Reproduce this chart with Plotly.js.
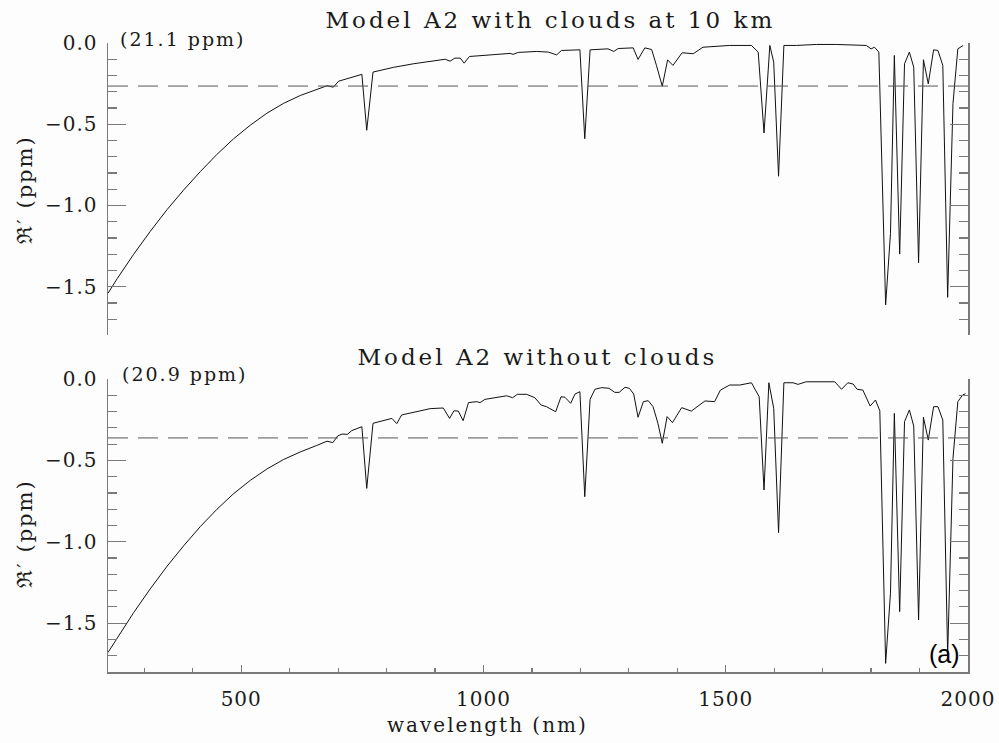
<!DOCTYPE html>
<html>
<head>
<meta charset="utf-8">
<script src="https://cdn.plot.ly/plotly-3.0.1.min.js"></script>
<style>html,body{margin:0;padding:0;background:#fdfdfd;}</style>
</head>
<body>
<div id="chart" style="width:999px;height:743px;"></div>
<script>
// ---- Data ----
const waveTop = [225,244,278,312,347,381,416,450,484,519,553,587,622,656,677,690,701,749,759,772,814,855,890,921,931,941,952,960,971,1007,1055,1061,1072,1110,1134,1151,1161,1199,1209,1220,1257,1269,1278,1309,1319,1333,1347,1357,1369,1380,1391,1410,1433,1453,1481,1508,1553,1567,1579,1591,1599,1609,1620,1646,1687,1728,1790,1800,1807,1816,1830,1840,1848,1859,1869,1879,1888,1898,1908,1918,1929,1938,1948,1958,1969,1979,1990];
const valTop = [-1.54,-1.45,-1.30,-1.16,-1.025,-0.905,-0.79,-0.685,-0.59,-0.505,-0.432,-0.372,-0.323,-0.285,-0.263,-0.272,-0.235,-0.193,-0.537,-0.179,-0.150,-0.128,-0.112,-0.100,-0.112,-0.093,-0.093,-0.124,-0.083,-0.075,-0.064,-0.070,-0.058,-0.052,-0.056,-0.073,-0.046,-0.042,-0.589,-0.042,-0.036,-0.052,-0.034,-0.030,-0.101,-0.030,-0.040,-0.138,-0.266,-0.104,-0.138,-0.060,-0.066,-0.026,-0.022,-0.015,-0.015,-0.056,-0.554,-0.015,-0.118,-0.820,-0.015,-0.015,-0.009,-0.009,-0.015,-0.036,-0.026,-0.056,-1.612,-1.172,-0.077,-1.299,-0.128,-0.056,-0.149,-1.352,-0.103,-0.251,-0.042,-0.046,-0.138,-1.565,-0.373,-0.036,-0.015];

const waveBot = [225,244,278,312,347,381,416,450,484,519,553,587,622,656,677,689,699,708,719,728,749,759,772,811,821,831,855,890,917,930,939,948,958,969,986,993,1003,1048,1060,1070,1089,1106,1119,1130,1149,1160,1168,1180,1189,1199,1209,1220,1230,1244,1259,1271,1280,1292,1301,1310,1319,1330,1340,1350,1360,1369,1379,1390,1409,1429,1457,1477,1489,1508,1529,1553,1569,1579,1589,1599,1609,1620,1639,1649,1666,1725,1739,1752,1763,1771,1783,1798,1809,1818,1830,1840,1848,1859,1869,1879,1888,1898,1908,1918,1929,1938,1948,1958,1969,1979,1989,1995];
const valBot = [-1.68,-1.59,-1.435,-1.29,-1.15,-1.025,-0.905,-0.80,-0.705,-0.622,-0.553,-0.495,-0.448,-0.408,-0.382,-0.391,-0.350,-0.338,-0.340,-0.317,-0.293,-0.672,-0.272,-0.242,-0.274,-0.221,-0.205,-0.182,-0.178,-0.242,-0.195,-0.197,-0.256,-0.145,-0.139,-0.145,-0.125,-0.103,-0.115,-0.094,-0.094,-0.115,-0.160,-0.170,-0.201,-0.109,-0.112,-0.149,-0.092,-0.078,-0.723,-0.125,-0.063,-0.053,-0.057,-0.082,-0.082,-0.051,-0.057,-0.092,-0.235,-0.139,-0.133,-0.170,-0.272,-0.395,-0.231,-0.268,-0.176,-0.197,-0.135,-0.139,-0.068,-0.037,-0.037,-0.023,-0.109,-0.682,-0.023,-0.180,-0.944,-0.023,-0.023,-0.033,-0.017,-0.017,-0.063,-0.023,-0.031,-0.063,-0.068,-0.166,-0.129,-0.195,-1.747,-1.316,-0.211,-1.429,-0.262,-0.190,-0.289,-1.480,-0.235,-0.375,-0.170,-0.170,-0.252,-1.695,-0.487,-0.139,-0.098,-0.090];

const meanTop = -0.265;
const meanBot = -0.362;
const xRange = [225, 2000];
const yRange = [-1.8, 0];
const panelTitles = ["Model A2 with clouds at 10 km", "Model A2 without clouds"];
const depthLabels = ["(21.1 ppm)", "(20.9 ppm)"];
const yTitle = "\u211C\u2032 (ppm)";
const xTitle = "wavelength (nm)";
const panelTag = "(a)";

// ---- Styling ----
const AX = '#7a7a7a';
const TXT = '#1a1a1a';
const SERIF = 'DejaVu Serif, serif';

const traces = [
  {x: waveTop, y: valTop, xaxis: 'x', yaxis: 'y', mode: 'lines', line: {color: '#111', width: 1}, hoverinfo: 'skip'},
  {x: xRange, y: [meanTop, meanTop], xaxis: 'x', yaxis: 'y', mode: 'lines', line: {color: '#555', width: 1, dash: '20px,10px'}, hoverinfo: 'skip'},
  {x: waveBot, y: valBot, xaxis: 'x2', yaxis: 'y2', mode: 'lines', line: {color: '#111', width: 1}, hoverinfo: 'skip'},
  {x: xRange, y: [meanBot, meanBot], xaxis: 'x2', yaxis: 'y2', mode: 'lines', line: {color: '#555', width: 1, dash: '20px,10px'}, hoverinfo: 'skip'}
];

function yAxis(domain, anchor) {
  return {
    domain: domain, anchor: anchor, range: yRange, autorange: false,
    tick0: 0, dtick: 0.5, tickformat: '.1f',
    ticks: 'inside', ticklen: 18, tickwidth: 1.2, tickcolor: AX,
    showline: true, linecolor: AX, linewidth: 1.5, mirror: 'ticks',
    minor: {dtick: 0.1, tick0: 0, ticks: 'inside', ticklen: 9, tickwidth: 1.2, tickcolor: AX, showgrid: false},
    showgrid: false, zeroline: false,
    tickfont: {family: SERIF, size: 20, color: TXT},
    ticklabelstandoff: 5
  };
}

const px = (p) => (p - 108) / 860;
const py = (p) => (672 - p) / 629;

const ann = (text, x, y, opts) => Object.assign({
  text: text, x: px(x), y: py(y), xref: 'paper', yref: 'paper',
  showarrow: false, xanchor: 'center', yanchor: 'middle',
  font: {family: SERIF, size: 20, color: TXT}
}, opts || {});

const layout = {
  width: 999, height: 743,
  margin: {l: 108, r: 31, t: 43, b: 71, pad: 0},
  paper_bgcolor: '#fdfdfd', plot_bgcolor: '#fdfdfd',
  showlegend: false,
  xaxis: {
    domain: [0, 1], anchor: 'y', range: xRange, autorange: false,
    showline: false, ticks: '', showticklabels: false, showgrid: false, zeroline: false
  },
  xaxis3: {
    overlaying: 'x', anchor: 'y', side: 'top', range: [0, 20], autorange: false,
    dtick: 1, tick0: 0, ticks: 'inside', ticklen: 4, tickwidth: 1.2, tickcolor: AX,
    showline: true, linecolor: AX, linewidth: 1.5,
    showticklabels: false, showgrid: false, zeroline: false
  },
  xaxis2: {
    domain: [0, 1], anchor: 'y2', range: xRange, autorange: false,
    tick0: 0, dtick: 500, ticks: 'inside', ticklen: 7, tickwidth: 1.2, tickcolor: AX,
    minor: {dtick: 100, tick0: 0, ticks: 'inside', ticklen: 4, tickwidth: 1.2, tickcolor: AX, showgrid: false},
    showline: true, linecolor: AX, linewidth: 1.5,
    showgrid: false, zeroline: false,
    tickfont: {family: SERIF, size: 20, color: TXT},
    ticklabelstandoff: 8
  },
  yaxis: yAxis([0.535, 1], 'x'),
  yaxis2: yAxis([0, 0.4658], 'x2'),
  annotations: [
    ann(panelTitles[0], 550, 20, {font: {family: SERIF, size: 23, color: TXT}}),
    ann(panelTitles[1], 537, 357, {font: {family: SERIF, size: 23, color: TXT}}),
    ann(depthLabels[0], 128, 39, {xanchor: 'left', font: {family: SERIF, size: 19, color: TXT}}),
    ann(depthLabels[1], 130, 374, {xanchor: 'left', font: {family: SERIF, size: 19, color: TXT}}),
    ann(yTitle, 25, 190, {textangle: -90, font: {family: SERIF, size: 21, color: TXT}}),
    ann(yTitle, 25, 534, {textangle: -90, font: {family: SERIF, size: 21, color: TXT}}),
    ann(xTitle, 487, 725, {font: {family: SERIF, size: 20, color: TXT}}),
    ann(panelTag, 944, 654, {font: {family: 'Liberation Sans, Arial, sans-serif', size: 25, color: '#000'}})
  ]
};

// Wider letter spacing to mimic the original plotting font
const spacing = {};
spacing[panelTitles[0]] = '3px';
spacing[panelTitles[1]] = '3px';
spacing[depthLabels[0]] = '2px';
spacing[depthLabels[1]] = '2px';
spacing[yTitle] = '2px';
spacing[xTitle] = '2px';

Plotly.newPlot('chart', traces, layout, {staticPlot: true, displayModeBar: false}).then(function () {
  document.querySelectorAll('#chart text.annotation-text').forEach(function (t) {
    const s = spacing[t.textContent];
    if (s) t.style.letterSpacing = s;
  });
  document.querySelectorAll('#chart .xtick text, #chart .ytick text, #chart .x2tick text, #chart .y2tick text').forEach(function (t) {
    t.style.letterSpacing = '1px';
  });
});
</script>
</body>
</html>
